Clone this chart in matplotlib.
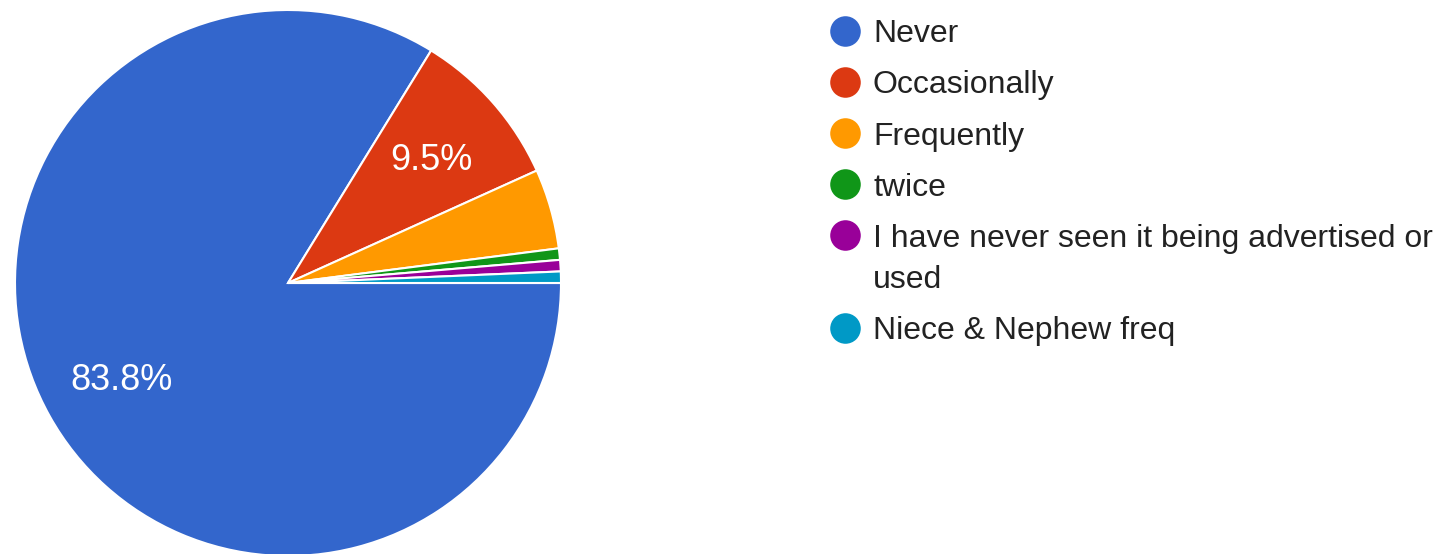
import matplotlib.pyplot as plt

# Dane (liczba odpowiedzi)
labels = ["Never", "Occasionally", "Frequently", "twice",
          "I have never seen it being advertised or\nused", "Niece & Nephew freq"]
counts = [124, 14, 7, 1, 1, 1]
colors = ["#3366CC", "#DC3912", "#FF9900", "#109618", "#990099", "#0099C6"]

plt.rcParams['font.family'] = ['Liberation Sans', 'DejaVu Sans']

fig = plt.figure(figsize=(14.42, 5.54), dpi=100)
ax = fig.add_axes([0, 0, 1, 1])
ax.set_aspect('equal')
ax.axis('off')

# Wykres kołowy
wedges, texts, autotexts = ax.pie(
    counts, colors=colors, center=(288, 271), radius=273,
    startangle=0, counterclock=False,
    autopct=lambda p: f"{p:.1f}%" if p > 5 else "",
    pctdistance=0.70,
    wedgeprops=dict(edgecolor="white", linewidth=1.5),
    textprops=dict(color="white", fontsize=26))
for t in autotexts:
    t.set_va('center_baseline')
ax.set_xlim(0, 1442)
ax.set_ylim(0, 554)

# Legenda rysowana ręcznie
y = 554 - 31
for lab, col in zip(labels, colors):
    ax.plot(845, y, 'o', color=col, markersize=22, markeredgewidth=0)
    lines = lab.split("\n")
    for i, line in enumerate(lines):
        ax.text(873, y - i * 42, line, fontsize=23, color="#222222",
                ha='left', va='center_baseline')
    y -= 51 + 42 * (len(lines) - 1)

fig.savefig("out.png", dpi=100)
